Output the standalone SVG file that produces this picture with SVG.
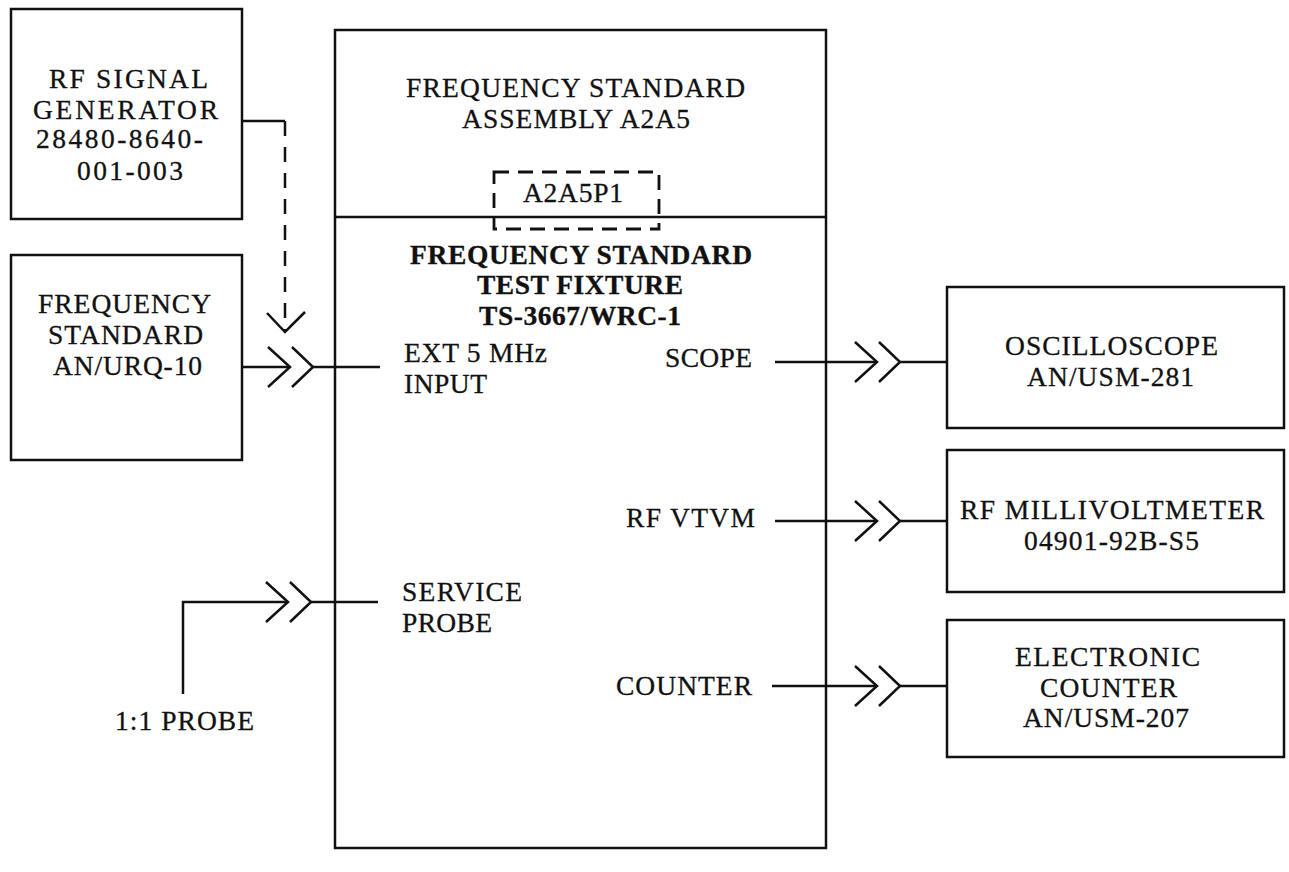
<svg xmlns="http://www.w3.org/2000/svg" xmlns:xlink="http://www.w3.org/1999/xlink" width="1289" height="872" viewBox="0 0 1289 872">
<style>
.box{fill:none;stroke:#111;stroke-width:2.5}
.ln{fill:none;stroke:#111;stroke-width:2.5}
.dash{fill:none;stroke:#111;stroke-width:2.5;stroke-dasharray:15 11}
.dbox{fill:none;stroke:#111;stroke-width:2.8;stroke-dasharray:15 9}
text{font-family:"Liberation Serif","Times New Roman",serif;font-size:27.5px;fill:#111;stroke:#111;stroke-width:0.3}
.b{font-weight:bold}
</style>
<defs>
<g id="dblchev" class="ln">
<path d="M-22,-20 L0,0 L-22,20"/>
<path d="M2,-20 L23,0 L2,20"/>
</g>
</defs>
<rect width="1289" height="872" fill="#fff"/>

<g id="rf_signal_generator">
<rect class="box" x="11" y="9" width="231" height="210"/>
<text x="49" y="88" textLength="159" lengthAdjust="spacing">RF SIGNAL</text>
<text x="33" y="119" textLength="185" lengthAdjust="spacing">GENERATOR</text>
<text x="36" y="148" textLength="167" lengthAdjust="spacing">28480-8640-</text>
<text x="77" y="180" textLength="106" lengthAdjust="spacing">001-003</text>
</g>

<g id="frequency_standard">
<rect class="box" x="11" y="255" width="231" height="205"/>
<text x="38" y="313" textLength="173" lengthAdjust="spacing">FREQUENCY</text>
<text x="48" y="344" textLength="155" lengthAdjust="spacing">STANDARD</text>
<text x="53" y="375" textLength="149" lengthAdjust="spacing">AN/URQ-10</text>
</g>

<g id="test_fixture">
<rect class="box" x="335" y="30" width="491" height="818"/>
<line class="ln" x1="335" y1="217" x2="826" y2="217"/>
<text x="406" y="97" textLength="339" lengthAdjust="spacing">FREQUENCY STANDARD</text>
<text x="462" y="128" textLength="228" lengthAdjust="spacing">ASSEMBLY A2A5</text>
<g id="a2a5p1">
<rect class="dbox" x="494" y="172" width="165" height="57"/>
<text x="523" y="202" textLength="100" lengthAdjust="spacing">A2A5P1</text>
</g>
<text class="b" x="410" y="264" textLength="342" lengthAdjust="spacing">FREQUENCY STANDARD</text>
<text class="b" x="477" y="294" textLength="206" lengthAdjust="spacing">TEST FIXTURE</text>
<text class="b" x="479" y="325" textLength="202" lengthAdjust="spacing">TS-3667/WRC-1</text>
<text x="404" y="362" textLength="143" lengthAdjust="spacing">EXT 5 MHz</text>
<text x="404" y="393" textLength="83" lengthAdjust="spacing">INPUT</text>
<text x="402" y="601" textLength="120" lengthAdjust="spacing">SERVICE</text>
<text x="402" y="632" textLength="90" lengthAdjust="spacing">PROBE</text>
<text x="665" y="367" textLength="87" lengthAdjust="spacing">SCOPE</text>
<text x="626" y="527" textLength="129" lengthAdjust="spacing">RF VTVM</text>
<text x="616" y="695" textLength="136" lengthAdjust="spacing">COUNTER</text>
</g>

<g id="oscilloscope">
<rect class="box" x="947" y="287" width="337" height="141"/>
<text x="1005" y="355" textLength="213" lengthAdjust="spacing">OSCILLOSCOPE</text>
<text x="1027" y="386" textLength="167" lengthAdjust="spacing">AN/USM-281</text>
</g>

<g id="rf_millivoltmeter">
<rect class="box" x="947" y="450" width="337" height="142"/>
<text x="960" y="519" textLength="304" lengthAdjust="spacing">RF MILLIVOLTMETER</text>
<text x="1024" y="550" textLength="175" lengthAdjust="spacing">04901-92B-S5</text>
</g>

<g id="electronic_counter">
<rect class="box" x="947" y="620" width="337" height="137"/>
<text x="1015" y="666" textLength="185" lengthAdjust="spacing">ELECTRONIC</text>
<text x="1040" y="697" textLength="137" lengthAdjust="spacing">COUNTER</text>
<text x="1023" y="727" textLength="166" lengthAdjust="spacing">AN/USM-207</text>
</g>

<g id="probe">
<text x="115" y="730" textLength="139" lengthAdjust="spacing">1:1 PROBE</text>
</g>

<g id="connectors">
<line class="ln" x1="242" y1="121" x2="285" y2="121"/>
<line class="dash" x1="285" y1="121" x2="285" y2="330"/>
<path class="ln" d="M267,313 L285,332 L305,312"/>

<line class="ln" x1="242" y1="367" x2="290" y2="367"/>
<use xlink:href="#dblchev" href="#dblchev" x="290" y="367"/>
<line class="ln" x1="313" y1="367" x2="380" y2="367"/>

<path class="ln" d="M183,694 L183,602 L288,602"/>
<use xlink:href="#dblchev" href="#dblchev" x="288" y="602"/>
<line class="ln" x1="311" y1="602" x2="378" y2="602"/>

<line class="ln" x1="775" y1="362" x2="877" y2="362"/>
<use xlink:href="#dblchev" href="#dblchev" x="877" y="362"/>
<line class="ln" x1="900" y1="362" x2="947" y2="362"/>

<line class="ln" x1="775" y1="521" x2="877" y2="521"/>
<use xlink:href="#dblchev" href="#dblchev" x="877" y="521"/>
<line class="ln" x1="900" y1="521" x2="947" y2="521"/>

<line class="ln" x1="772" y1="686" x2="877" y2="686"/>
<use xlink:href="#dblchev" href="#dblchev" x="877" y="686"/>
<line class="ln" x1="900" y1="686" x2="947" y2="686"/>
</g>
</svg>
